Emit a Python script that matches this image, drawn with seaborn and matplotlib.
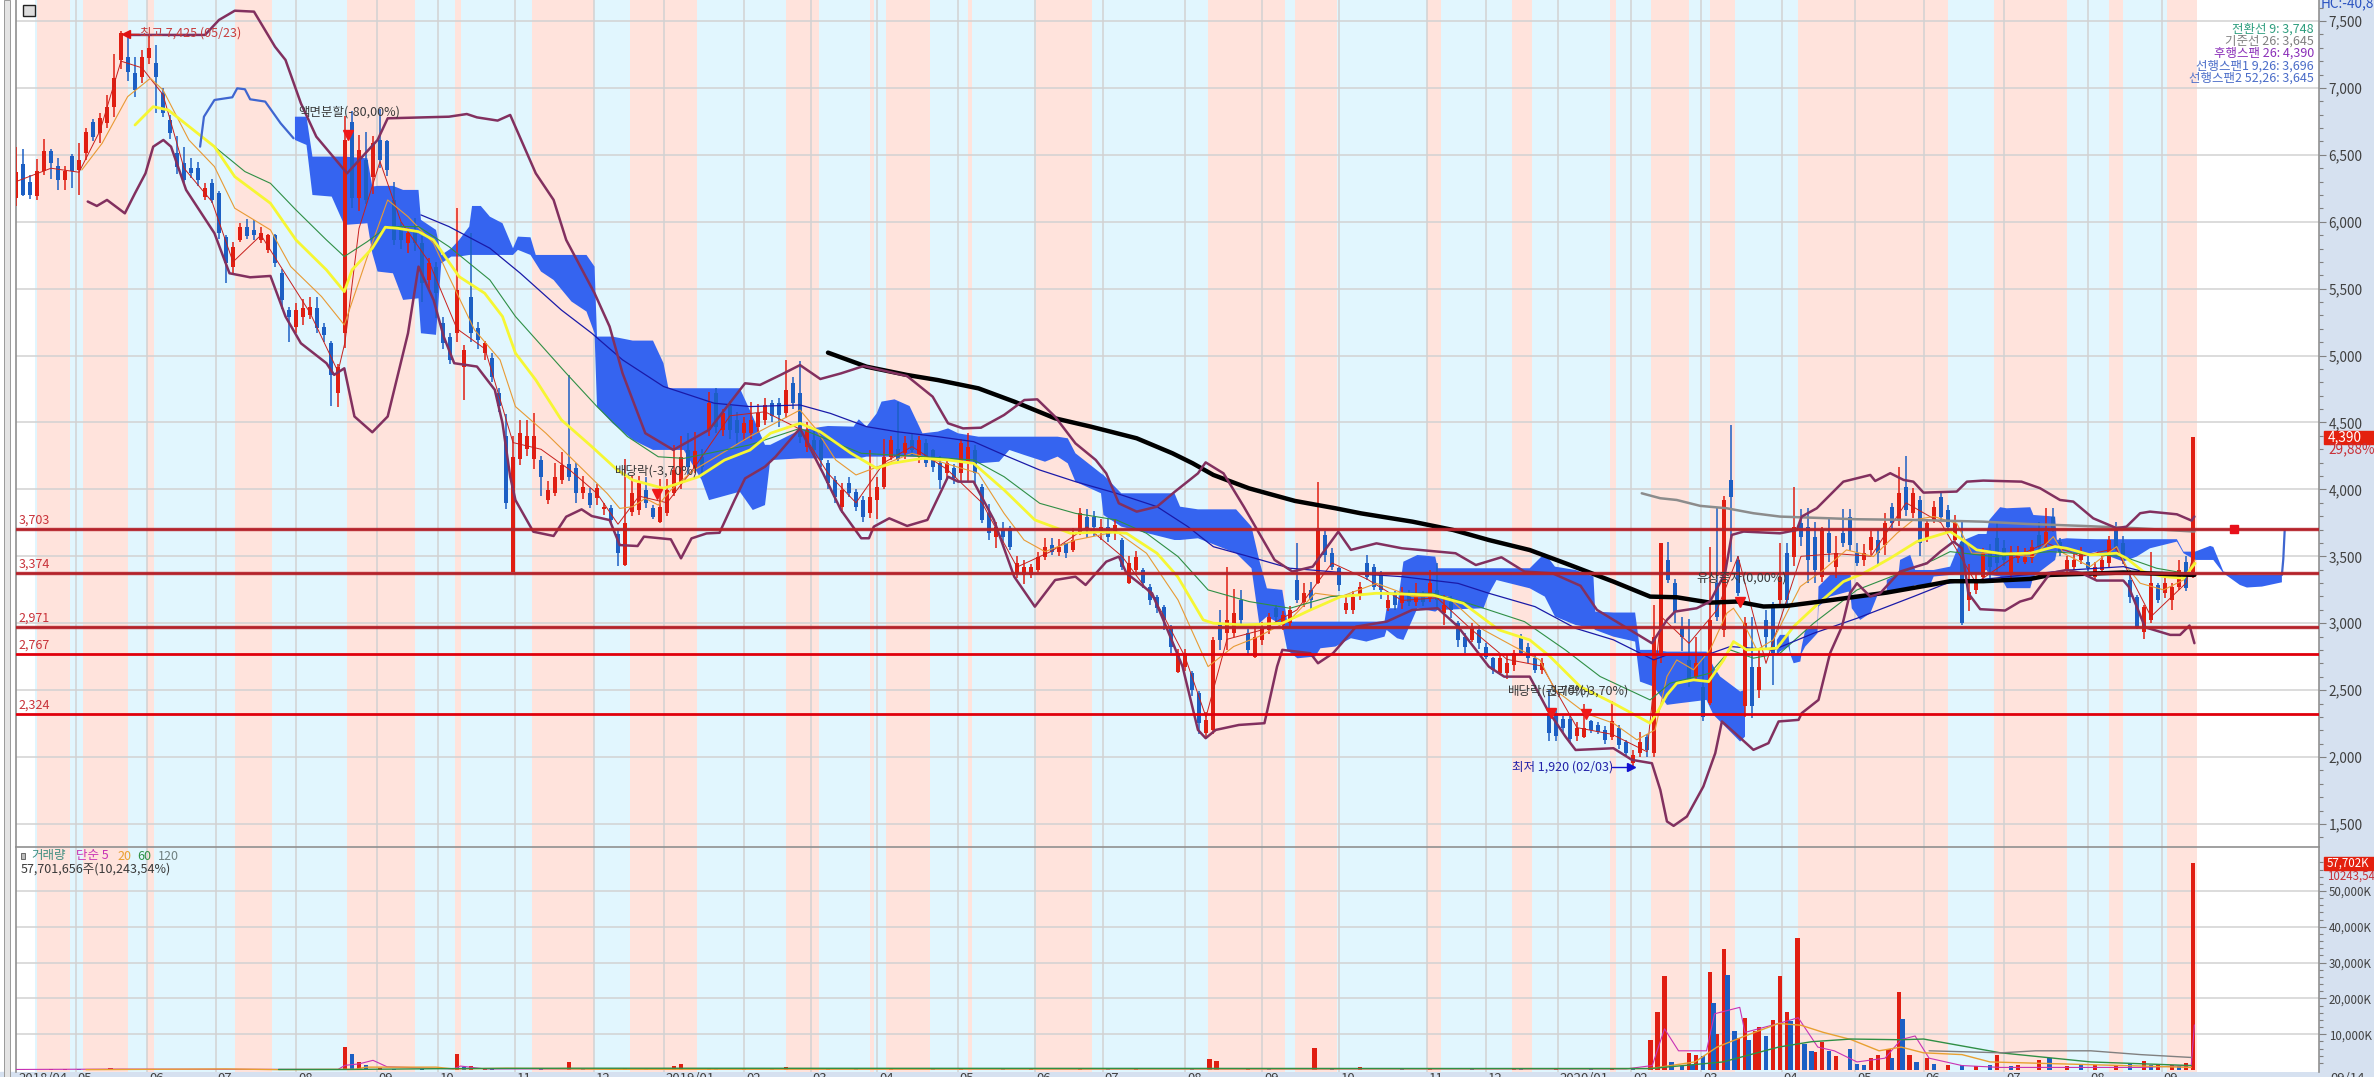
import matplotlib
matplotlib.use("Agg")
import numpy as np
import pandas as pd
import matplotlib.pyplot as plt
from matplotlib.patches import Rectangle
import seaborn as sns

sns.set_theme(style="white")
FONT = ["Liberation Sans Narrow", "Noto Sans CJK KR", "DejaVu Sans"]
plt.rcParams["font.family"] = FONT

# --------- candles, one every 2 sessions ---------
opens = [
    6180, 6430, 6300, 6190, 6380, 6530, 6420, 6310, 6490, 6387,
    6512, 6748, 6661, 6736, 6860, 7208, 7234, 7110, 7084, 7226,
    7184, 6960, 6760, 6512, 6437, 6400, 6400, 6188, 6287, 6213,
    5889, 5665, 5865, 5964, 5940, 5865, 5790, 5900, 5615, 5340,
    5217, 5290, 5304, 5352, 5217, 5092, 4720, 5170, 6748, 6176,
    6462, 6337, 6611, 6600, 6163, 5964, 5840, 5939, 5840, 5565,
    5665, 5240, 5142, 5167, 4918, 5441, 5205, 5018, 4980, 4720,
    4400, 3385, 4230, 4300, 4225, 4220, 3920, 3970, 4070, 4190,
    4157, 3970, 3970, 3933, 3850, 3858, 3670, 3435, 3833, 3846,
    3995, 3858, 3760, 3820, 3970, 4045, 4294, 4160, 4244, 4445,
    4720, 4445, 4620, 4520, 4420, 4420, 4470, 4520, 4644, 4644,
    4570, 4794, 4718, 4319, 4370, 4370, 4195, 4070, 3871, 4046,
    3983, 3921, 3822, 3921, 4020, 4245, 4300, 4270, 4370, 4245,
    4344, 4294, 4195, 4120, 4158, 4120, 4195, 4294, 4020, 3821,
    3647, 3697, 3709, 3373, 3361, 3361, 3398, 3498, 3585, 3535,
    3597, 3548, 3684, 3796, 3796, 3672, 3722, 3684, 3622, 3298,
    3398, 3398, 3274, 3199, 3124, 2975, 2639, 2676, 2626, 2477,
    2178, 2203, 3000, 2925, 2925, 3174, 2925, 2751, 2875, 2950,
    3112, 2987, 3000, 3323, 3162, 3249, 3298, 3660, 3523, 3411,
    3099, 3099, 3211, 3448, 3423, 3361, 3112, 3224, 3149, 3211,
    3162, 3211, 3187, 3250, 3075, 3162, 3000, 2900, 2875, 2950,
    2826, 2738, 2626, 2626, 2689, 2900, 2826, 2738, 2651, 2327,
    2326, 2285, 2285, 2161, 2153, 2266, 2241, 2203, 2153, 2216,
    2116, 1954, 2029, 2153, 2029, 2776, 3473, 3299, 2963, 2726,
    2602, 2527, 2402, 3299, 2950, 4071, 3473, 2378, 2676, 2502,
    3025, 3125, 3174, 3523, 3498, 3747, 3722, 3648, 3349, 3672,
    3423, 3672, 3797, 3523, 3473, 3548, 3623, 3585, 3872, 3772,
    4021, 3822, 3921, 3635, 3772, 3946, 3847, 3622, 3610, 3175,
    3249, 3349, 3548, 3635, 3560, 3361, 3486, 3461, 3486, 3660,
    3598, 3797, 3610, 3398, 3423, 3473, 3461, 3349, 3398, 3448,
    3697, 3598, 3324, 3199, 2938, 3025, 3286, 3224, 3174, 3274,
    3461, 3381,
]
highs = [
    6560, 6540, 6350, 6470, 6620, 6540, 6480, 6420, 6510, 6590,
    6700, 6770, 6810, 6950, 7250, 7425, 7390, 7230, 7280, 7400,
    7320, 7000, 6800, 6640, 6560, 6480, 6450, 6290, 6320, 6230,
    5900, 5850, 5990, 6020, 6010, 5960, 5910, 5910, 5650, 5360,
    5390, 5420, 5440, 5440, 5240, 5110, 4940, 6790, 6830, 6650,
    6670, 6640, 6840, 6610, 6300, 6000, 5950, 6030, 5890, 5730,
    5700, 5290, 5170, 6100, 5080, 5914, 5250, 5110, 5020, 4760,
    4560, 4400, 4520, 4520, 4570, 4250, 4060, 4200, 4280, 4856,
    4200, 4100, 4010, 4040, 3900, 3880, 3700, 4230, 4100, 4100,
    4090, 3880, 4080, 4080, 4330, 4400, 4420, 4430, 4300, 4730,
    4760, 4600, 4660, 4580, 4540, 4650, 4640, 4680, 4670, 4680,
    4968, 4840, 4960, 4500, 4440, 4400, 4220, 4100, 4050, 4095,
    4000, 3950, 4295, 4090, 4380, 4400, 4655, 4400, 4420, 4400,
    4380, 4300, 4250, 4230, 4190, 4380, 4420, 4330, 4040, 3890,
    3760, 3760, 3730, 3500, 3470, 3440, 3530, 3640, 3640, 3630,
    3600, 3710, 3860, 3850, 3840, 3780, 3780, 3780, 3640, 3500,
    3540, 3410, 3290, 3210, 3140, 2990, 2810, 2810, 2640, 2490,
    2340, 2900, 3100, 3423, 3255, 3250, 2960, 2980, 3010, 3080,
    3140, 3090, 3130, 3600, 3300, 3310, 4058, 3690, 3560, 3420,
    3200, 3240, 3310, 3510, 3440, 3390, 3220, 3240, 3270, 3250,
    3300, 3240, 3400, 3450, 3210, 3200, 3020, 2930, 3000, 2990,
    2850, 2750, 2770, 2760, 2800, 2920, 2850, 2760, 2740, 2500,
    2360, 2310, 2310, 2260, 2400, 2280, 2260, 2230, 2420, 2240,
    2130, 2050, 2190, 2170, 3140, 3600, 3605, 3330, 3050, 3030,
    2900, 2780, 3573, 3860, 3950, 4480, 3500, 3050, 3050, 2800,
    3100, 3160, 3600, 3600, 4021, 3850, 3860, 3760, 3720, 3790,
    3650, 3850, 3850, 3600, 3590, 3690, 3700, 3820, 3900, 4170,
    4250, 4010, 3950, 3780, 3910, 3980, 3880, 3810, 3760, 3440,
    3370, 3560, 3590, 3760, 3620, 3580, 3580, 3560, 3620, 3760,
    3860, 3860, 3640, 3500, 3520, 3570, 3500, 3460, 3500, 3650,
    3760, 3650, 3400, 3210, 3140, 3530, 3300, 3360, 3300, 3470,
    3500, 4390,
]
lows = [
    6120, 6190, 6170, 6160, 6350, 6320, 6240, 6240, 6250, 6200,
    6460, 6600, 6590, 6700, 6780, 7140, 7050, 6930, 7040, 7180,
    6810, 6780, 6620, 6360, 6280, 6330, 6270, 6160, 6140, 5870,
    5540, 5600, 5850, 5870, 5860, 5840, 5770, 5660, 5350, 5100,
    5170, 5230, 5270, 5170, 5100, 4620, 4617, 5060, 6100, 6080,
    6130, 6210, 6400, 6340, 5830, 5800, 5770, 5780, 5400, 5500,
    5280, 5050, 4940, 5100, 4670, 5100, 5050, 4970, 4800, 4580,
    3850, 3380, 4180, 4250, 4150, 3950, 3890, 3950, 4040, 4060,
    3900, 3930, 3860, 3880, 3810, 3740, 3425, 3430, 3800, 3810,
    3860, 3780, 3750, 3800, 3950, 4000, 4100, 4120, 4090, 4400,
    4420, 4400, 4380, 4340, 4360, 4380, 4420, 4480, 4500, 4470,
    4530, 4600, 4350, 4280, 4240, 4170, 4000, 3900, 3820, 3940,
    3840, 3760, 3790, 3780, 4000, 4220, 4200, 4230, 4260, 4200,
    4170, 4130, 4000, 4070, 4040, 4060, 4060, 4050, 3750, 3620,
    3560, 3600, 3550, 3340, 3290, 3340, 3380, 3470, 3510, 3500,
    3490, 3530, 3660, 3640, 3650, 3620, 3610, 3620, 3400, 3290,
    3380, 3260, 3140, 3080, 2950, 2780, 2630, 2640, 2460, 2170,
    2140, 2170, 2800, 2800, 2900, 2980, 2770, 2740, 2840, 2920,
    3000, 2950, 2970, 3150, 3120, 3100, 3290, 3460, 3395, 3240,
    3070, 3070, 3170, 3320, 3250, 3180, 3090, 3100, 3110, 3130,
    3130, 3130, 3160, 3100, 2985, 3040, 2820, 2780, 2860, 2810,
    2730, 2620, 2610, 2580, 2640, 2760, 2700, 2630, 2620, 2120,
    2120, 2190, 2110, 2120, 2140, 2180, 2170, 2100, 2130, 2060,
    2010, 1920, 2000, 2000, 2000, 2700, 3300, 3000, 2790, 2520,
    2570, 2270, 2390, 3020, 2900, 3460, 3200, 2300, 2290, 2440,
    2800, 2540, 3120, 3120, 3430, 3580, 3300, 3300, 3310, 3460,
    3340, 3570, 3540, 3430, 3430, 3500, 3430, 3510, 3700, 3730,
    3800, 3790, 3500, 3610, 3750, 3770, 3690, 3610, 2990, 3090,
    3220, 3330, 3340, 3380, 3430, 3330, 3450, 3440, 3450, 3550,
    3570, 3680, 3500, 3370, 3400, 3440, 3390, 3320, 3380, 3420,
    3540, 3440, 3150, 2960, 2880, 3000, 3150, 3190, 3100, 3250,
    3240, 3340,
]
closes = [
    6370, 6200, 6200, 6380, 6530, 6440, 6310, 6380, 6380, 6462,
    6673, 6636, 6773, 6860, 7072, 7408, 7122, 6985, 7234, 7296,
    7084, 6810, 6661, 6412, 6312, 6362, 6312, 6250, 6163, 5914,
    5690, 5815, 5964, 5890, 5900, 5914, 5900, 5690, 5416, 5290,
    5340, 5352, 5366, 5205, 5155, 4856, 4918, 6610, 6176, 6537,
    6163, 6587, 6462, 6387, 5864, 5864, 5914, 5840, 5540, 5690,
    5466, 5092, 4968, 5490, 5040, 5167, 5117, 5092, 4843, 4620,
    3895, 4244, 4420, 4400, 4400, 4095, 3995, 4095, 4180, 4090,
    3970, 4020, 3883, 4008, 3870, 3771, 3522, 3750, 3970, 4045,
    3895, 3796, 3870, 3995, 4145, 4244, 4170, 4290, 4170, 4644,
    4470, 4570, 4445, 4420, 4495, 4520, 4570, 4632, 4545, 4557,
    4744, 4644, 4394, 4444, 4295, 4220, 4046, 3946, 3996, 3971,
    3871, 3796, 3946, 4020, 4245, 4369, 4230, 4344, 4295, 4369,
    4195, 4170, 4070, 4195, 4083, 4344, 4320, 4120, 3772, 3672,
    3722, 3647, 3572, 3448, 3423, 3423, 3498, 3572, 3535, 3572,
    3523, 3622, 3821, 3697, 3722, 3722, 3647, 3734, 3423, 3448,
    3498, 3298, 3174, 3112, 3025, 2826, 2776, 2776, 2502, 2253,
    2278, 2875, 2875, 3025, 3075, 3025, 2801, 2900, 2975, 3050,
    3050, 3060, 3099, 3174, 3224, 3174, 3710, 3510, 3423, 3286,
    3149, 3199, 3274, 3348, 3274, 3249, 3174, 3137, 3224, 3162,
    3224, 3162, 3298, 3174, 3137, 3099, 2875, 2826, 2975, 2850,
    2751, 2651, 2738, 2701, 2776, 2776, 2738, 2651, 2701, 2178,
    2160, 2216, 2133, 2216, 2216, 2203, 2191, 2128, 2266, 2091,
    2029, 2016, 2116, 2054, 2900, 3598, 3324, 3087, 2900, 2577,
    2701, 2303, 3025, 3050, 3921, 3946, 3224, 3000, 2378, 2676,
    2900, 2776, 3349, 3174, 3722, 3647, 3473, 3398, 3697, 3523,
    3523, 3598, 3585, 3448, 3523, 3647, 3523, 3747, 3747, 3971,
    3847, 3971, 3598, 3747, 3872, 3797, 3722, 3747, 3000, 3237,
    3324, 3523, 3423, 3448, 3473, 3535, 3535, 3498, 3573, 3573,
    3685, 3697, 3535, 3473, 3473, 3535, 3411, 3423, 3473, 3623,
    3560, 3473, 3199, 2975, 3125, 3299, 3174, 3299, 3274, 3398,
    3262, 4390,
]

# --------- moving averages and bands (session, price) ---------
upper_s = [32, 39, 54, 58, 62.5, 68, 74, 77, 81.4, 85.8, 94.6, 103.3, 106.2, 123.7, 128.8, 131.7, 137.6, 141.2,
           148.5, 153.6, 157.2, 165.3, 169.6, 173.3, 179.8, 187.8, 198, 208.3, 212.6, 218.5, 224, 229.8, 235.7,
           242.2, 254.6, 261.9, 266.3, 270.6, 275.7, 282.3, 288.1, 291.8, 296.9, 302.7, 308.5, 311.5, 315.1, 320.2,
           326, 331.1, 337.7, 339.9, 345, 350.8, 355.2, 359.6, 364.7, 370.5, 377.8, 381.4, 388.7, 396, 411.3, 417.1,
           424.4, 431, 439, 447, 451.7, 467.4, 471.7, 474, 480.2, 484, 488.3, 490.2, 493.6, 504, 508.8, 510.2, 514.5,
           522.1, 529.8, 531.2, 535.5, 539.3, 542.1, 545, 554.5, 557.4, 562.1, 573, 578.3, 584, 587.8, 593.5, 600.2,
           603, 606.9, 609.7, 617.4, 621.6, 622.4]
upper_p = [7396, 7396, 7396, 7508, 7577, 7570, 7308, 7209, 6885, 6636, 6362, 6611, 6773, 6785, 6805, 6780, 6756, 6798,
           6362, 6163, 5864, 5466, 5217, 4868, 4420, 4295, 4445, 4793, 4781, 4856, 4929, 4825, 4867,
           4922, 4847, 4693, 4494, 4456, 4461, 4556, 4668, 4673, 4543, 4344, 4220, 4120, 3896, 3834,
           3871, 3983, 4120, 4202, 4120, 3871, 3672, 3473, 3386, 3423, 3684, 3548, 3597, 3560, 3523, 3435,
           3493, 3386, 3373, 3280, 3100, 2851, 3025, 3087, 3112, 3162, 3374, 3660, 3685, 3672, 3697, 3797, 3859,
           4058, 4108, 4063, 4121, 4071, 4058, 3976, 3984, 4058, 4066, 4058, 4009, 3921, 3909, 3784, 3710,
           3722, 3822, 3834, 3814, 3767, 3797]

lower_s = [20.5, 23.1, 26, 31.1, 34, 37, 39.2, 42.1, 44.3, 48.6, 56.7, 61, 66.9, 72.7, 77, 81.4, 88.7, 90.9, 93.8,
           96.7, 101.8, 106.2, 112, 115, 119.3, 122.2, 125.2, 131.7, 136.8, 139, 141.2, 142.7, 147.8, 153.6, 157.2,
           161.6, 164.5, 169.6, 172.5, 177.6, 179.4, 187.1, 190, 193, 197.3, 201, 205.3, 208.3, 214, 217, 224, 230.6,
           235.7, 241.5, 243.7, 245.1, 249.5, 254.6, 260.4, 266.3, 269.2, 273.6, 279.4, 285.2, 291.1, 296.9, 302.7,
           305.6, 311.5, 315.1, 317.3, 324.6, 329, 333.3, 337.7, 339.9, 342.8, 349.4, 356.7, 360.3, 361.8, 369.8, 372,
           376.3, 382.9, 391.6, 398.9, 406.2, 412, 420.8, 425.2, 432.5, 437.6, 442.7, 445.6, 456.4, 461.7, 467.4,
           469.8, 471.7, 473.6, 477.4, 482.1, 485.5, 487.4, 491.7, 496.4, 500.7, 503.6, 509.3, 510.2, 515, 518.3,
           521.7, 524, 526, 529.8, 532.6, 538.3, 546, 549.8, 553.6, 556, 557.8, 561.2, 568.3, 572.6, 575.9, 581.2,
           585.9, 590.2, 594.5, 602.1, 603.6, 608.3, 615.5, 618.3, 621, 622.4]
lower_p = [6151, 6118, 6163, 6063, 6213, 6362, 6561, 6611, 6561, 6238, 5914, 5615, 5585, 5595, 5292, 5092, 4943, 4856, 4905,
           4545, 4427, 4545, 5167, 5665, 5416, 5142, 4943, 4918, 4744, 4495, 4095, 3920, 3684, 3652, 3796,
           3851, 3801, 3771, 3584, 3577, 3647, 3627, 3485, 3634, 3671, 3676, 3920, 4082, 4170, 4244, 4456, 4120,
           3846, 3635, 3635, 3722, 3784, 3727, 3772, 4095, 4058, 4058, 3772, 3348, 3124, 3323, 3348,
           3286, 3460, 3498, 3373, 3224, 2950, 2676, 2203, 2141, 2203, 2240, 2253, 2676, 2801, 2776, 2701,
           2776, 2975, 3012, 3099, 3112, 2975, 2676, 2601, 2601, 2352, 2153, 2053, 2066, 1979, 1954,
           1755, 1519, 1486, 1556, 1780, 2029, 2266, 2166, 2054, 2104, 2266, 2278, 2328, 2427, 2776,
           2975, 3224, 3299, 3199, 3224, 3386, 3448, 3535, 3610, 3560, 3224, 3105, 3095, 3162, 3187, 3374,
           3398, 3374, 3319, 3319, 3274, 2970, 2913, 2913, 2983, 2851]

ma5_s = [0, 10, 18, 24, 30, 36, 42, 48, 56, 62, 70, 76, 84, 92, 94, 98, 104, 110, 118, 126, 134, 142, 150, 158, 166, 172,
         178, 186, 194, 204, 214, 224, 232, 240, 248, 256, 266, 276, 286, 296, 306, 316, 326, 334, 340, 346, 356, 366,
         376, 386, 396, 406, 416, 426, 436, 446, 456, 466, 470, 478, 486, 492, 500, 510, 520, 530, 540, 550, 560, 570,
         580, 590, 600, 610, 620, 622]
ma5_p = [6300, 6400, 6370, 6680, 7200, 7150, 6950, 6400, 6150, 5700, 5900, 5650, 5320, 4880, 5100, 5950, 6450, 6000, 5700,
         5200, 5050, 4350, 4300, 4150, 3970, 3740, 3950, 3900, 4170, 4550, 4580, 4450, 4120, 3900, 4200, 4320, 4150,
         3900, 3420, 3540, 3720, 3500, 3150, 2750, 2300, 2880, 2950, 3100, 3450, 3330, 3170, 3190, 2950, 2730, 2680,
         2220, 2170, 2040, 3050, 2850, 3100, 3500, 2700, 3500, 3520, 3500, 3900, 3750, 3300, 3480, 3600, 3500, 3560,
         3050, 3300, 3500]

ma10_s = [18.8, 24.6, 31.9, 38.4, 42, 49.4, 56.7, 62.5, 72.7, 78.5, 87.3, 93.8, 100.4, 106.2, 112, 119.3, 123.7, 131, 138.3,
          142.7, 151.4, 160.2, 168.9, 172.5, 176.2, 179.8, 183.5, 187.1, 193.7, 210, 224, 228.4, 234.2, 240, 248.8, 256,
          275, 282.3, 288, 294, 302.7, 314.4, 323, 332, 340.6, 347.9, 355, 364, 371.2, 378.5, 388.7, 399, 409, 419.3, 428,
          435.4, 439.7, 448.5, 456.4, 463.1, 468.3, 471.7, 474.5, 479.3, 484, 488.8, 490.7, 493.6, 497.4, 502.1, 505.9,
          509.8, 516.4, 523, 530.7, 537.4, 542.1, 547.9, 554.5, 558.8, 565, 576.4, 582.1, 585, 592.6, 600.2, 603, 606.9,
          613.6, 619.3, 622.6]
ma10_p = [6387, 6586, 6935, 7072, 6985, 6611, 6412, 6101, 5939, 5665, 5441, 5229, 5740, 6163, 6038, 5839, 5590, 5192, 4968,
          4619, 4420, 4194, 3970, 3858, 3871, 3933, 3883, 3995, 4145, 4400, 4593, 4456, 4220, 4108, 4195, 4270,
          4120, 3821, 3622, 3535, 3622, 3684, 3523, 3174, 2676, 2826, 2900, 3025, 3224, 3199, 3298, 3199, 3199, 2950, 2826,
          2726, 2502, 2327, 2253, 2129, 2203, 2602, 2726, 2652, 2801, 3075, 3112, 3000, 2801, 2876, 3075,
          3274, 3398, 3548, 3498, 3672, 3772, 3797, 3747, 3523, 3523, 3498, 3647, 3523, 3423, 3573, 3423, 3299,
          3249, 3324, 3473]

ma20_s = [34, 39.2, 43.5, 56.7, 62.5, 72.7, 80, 88.7, 93.8, 96, 101.8, 105.5, 109.1, 115, 119.3, 126.6, 133.9, 139, 142.7,
          148.5, 155.8, 164.5, 171.8, 176.2, 185, 189.3, 195.1, 202.4, 209.7, 215.6, 224, 229.8, 238.6, 245.9, 250.2,
          259, 266.3, 273.6, 282.3, 291.1, 301.3, 311.5, 317.3, 326, 331.9, 339.2, 342.1, 350.8, 361.8, 369.8, 378.5,
          388.7, 404.8, 413.5, 423.7, 432.5, 438.3, 446.9, 456.4, 466.9, 468.8, 471.7, 474.5, 479.3, 483.6, 487.9, 490.7,
          494.5, 503.1, 507.9, 514.5, 522.1, 527.9, 535.5, 543.1, 552.6, 555.5, 560.2, 567.8, 575.5, 582.6, 585.9, 592.6,
          600.2, 603, 607.8, 613.6, 619.3, 622.6]
ma20_p = [6723, 6860, 6835, 6561, 6337, 6138, 5864, 5640, 5478, 5640, 5802, 5959, 5951, 5926, 5864, 5590, 5466, 5292, 5018,
          4818, 4520, 4320, 4145, 4070, 4008, 4045, 4095, 4219, 4294, 4420, 4494, 4431, 4270, 4158, 4195,
          4232, 4220, 4195, 3996, 3772, 3672, 3684, 3672, 3523, 3348, 3025, 3000, 2987, 3000, 3099, 3199,
          3224, 3211, 3149, 2950, 2875, 2751, 2527, 2402, 2253, 2328, 2465, 2552, 2577, 2564, 2726, 2863,
          2801, 2813, 2975, 3137, 3311, 3374, 3486, 3610, 3685, 3635, 3548, 3518, 3523, 3573, 3560, 3511,
          3523, 3486, 3386, 3349, 3336, 3448]

ma60_s = [56.7, 65.4, 72.7, 80, 88.7, 93.8, 100.4, 106.2, 115, 123.7, 135.4, 142.7, 157.2, 166, 174.7, 183.5, 190.8, 209.7,
          224, 241.5, 259, 273.6, 282.3, 292.5, 302.7, 314.4, 323, 332, 340.6, 352.3, 364, 375.6, 388.7, 404.8, 416.4,
          431, 442.7, 452.6, 466.9, 472.6, 484, 489.8, 496.4, 504, 513.6, 526, 538.3, 547.9, 552.6, 565, 581.2, 602.1,
          611.6, 622.4]
ma60_p = [6561, 6375, 6287, 6088, 5864, 5740, 5852, 5964, 5964, 5814, 5565, 5292, 4868, 4619, 4395, 4244, 4232, 4333,
          4456, 4270, 4245, 4220, 4095, 3896, 3821, 3772, 3672, 3498, 3249, 3162, 3112, 3199, 3224, 3224, 3137,
          3012, 2800, 2602, 2427, 2552, 2627, 2801, 2739, 2776, 3000, 3249, 3374, 3473, 3535, 3498, 3535, 3498,
          3411, 3361]

ma120_s = [115.7, 123.7, 135.4, 144.1, 155.8, 164.5, 173.3, 185, 199.5, 209.7, 224, 232.7, 243, 251.7, 263.4, 273.6, 282.3,
           292.5, 302.7, 314.4, 326, 334.8, 342.1, 352.3, 364, 381.4, 396, 412, 420.8, 434, 445.6, 456.4, 467.9, 471.7,
           483, 489.8, 502.1, 513.6, 526, 542.1, 551.7, 587, 602.1, 609.7, 622.4]
ma120_p = [6051, 5964, 5802, 5615, 5341, 5167, 4968, 4769, 4644, 4619, 4631, 4568, 4469, 4431, 4394, 4357, 4257,
           4145, 4058, 3971, 3871, 3722, 3572, 3498, 3411, 3373, 3348, 3298, 3224, 3124, 2962, 2876, 2726, 2763,
           2763, 2826, 2801, 2925, 3037, 3199, 3299, 3398, 3423, 3374, 3369]

ma240_s = [232, 243, 254.6, 263.4, 275, 285.2, 296.9, 307.1, 320.2, 330.4, 336.2, 342.1, 352.3, 365.4, 377, 384.3, 399, 410.6,
           420.8, 432.5, 442.7, 456.4, 466.9, 474.5, 484, 491.7, 499.3, 506, 515.5, 526, 534.5, 546.9, 552.6, 562.1,
           575.5, 581.2, 590.7, 602.1, 622.4]
ma240_p = [5022, 4917, 4855, 4817, 4755, 4656, 4531, 4469, 4382, 4270, 4195, 4108, 4008, 3914, 3859, 3821, 3759, 3697,
           3622, 3547, 3448, 3311, 3199, 3194, 3154, 3162, 3125, 3130, 3162, 3199, 3229, 3286, 3314, 3314,
           3331, 3361, 3369, 3379, 3361]

ma480_s = [464.5, 469.8, 474.5, 481.2, 488.8, 496.4, 504, 526, 542.1, 562.1, 574.5, 590.7, 605.9, 622.4]
ma480_p = [3971, 3934, 3921, 3877, 3859, 3822, 3797, 3777, 3772, 3759, 3742, 3727, 3710, 3685]

# --------- ichimoku cloud ---------
cloud_s = [79.7, 83, 84.7, 90.2, 93.8, 100.4, 101.8, 103.3, 107.7, 110.6, 115, 115.7, 120, 121.5, 124.4, 126.6, 129.5, 130.3,
           132.8, 135.4, 139, 142, 143.4, 147, 148.5, 150, 153.6, 158.7, 163, 165.3, 166, 170.4, 176.2, 182, 185, 186.4, 190.8,
           195.9, 198, 206.8, 210.5, 214, 215.5, 224, 232, 239.3, 240.8, 243, 245.9, 247.3, 251, 255.3, 259, 263.4, 266.3, 269.2,
           275, 280.9, 283.8, 288.1, 294, 297.6, 300.5, 302.7, 310, 310.7, 315.8, 331, 332.6, 337.7, 348.6, 353, 355.2, 357.4,
           361.8, 363.2, 366.1, 371.2, 372.7, 377, 381.4, 385.8, 391, 391.6, 394.6, 396.4, 400.4, 405.5, 406.2, 419.3, 420.8, 423,
           432.5, 436.8, 439.7, 445.6, 450.7, 451.2, 456.4, 462.6, 464, 467.9, 471.7, 475.5, 483, 485, 486.9, 492.6, 494, 494.5,
           503.1, 504, 506.4, 507, 507.9, 509.8, 510.2, 511.2, 514.7, 515, 518.3, 523.6, 524.2, 524.5, 526.9, 529.8, 531.7, 533,
           534.5, 537.9, 538.3, 541.2, 542.6, 546.9, 547.9, 552.6, 555.5, 560.7, 563, 563.8, 566.9, 568.8, 575.5, 576.4, 582.6,
           583.1, 585.9, 590.7, 594.5, 602.1, 605.9, 609.7, 617.4, 619.3, 622.6, 626.9, 627.8, 630.7, 635.4, 637.4, 641.7, 647.4]
cloud_top = [6785, 6785, 6487, 6487, 6487, 6474, 6263, 6268, 6268, 6238, 6238, 6014, 5939, 5752, 5802, 5864, 5964, 6118,
             6118, 6038, 5989, 5802, 5889, 5884, 5752, 5752, 5752, 5752, 5752, 5665, 5142, 5142, 5112, 5112, 4943, 4756, 4756,
             4756, 4756, 4756, 4545, 4333, 4333, 4444, 4474, 4469, 4524, 4469, 4568, 4656, 4673, 4623, 4419, 4432, 4456, 4419,
             4394, 4394, 4394, 4394, 4394, 4394, 4382, 4270, 4120, 4108, 3971, 3971, 3871, 3851, 3851, 3722, 3473, 3261,
             3249, 3012, 3012, 3012, 3012, 3012, 3012, 3012, 3012, 3112, 3112, 3460, 3510, 3498, 3411, 3411, 3411, 3411,
             3411, 3523, 3423, 3398, 3349, 3087, 3080, 3080, 2801, 2801, 2788, 2788, 2788, 2676, 2602, 2490, 2502, np.nan,
             2876, 2913, 2913, 2776, 2763, 2763, 2826, 2950, 2975, 3274, 3361, 3361, 3361, 3212, 3212, 3212, 3212, np.nan,
             3324, 3374, 3473, 3511, 3398, 3398, 3398, 3423, 3610, 3667, 3667, 3772, 3867, 3859, 3867, 3809, 3797,
             3623, 3635, 3630, 3628, 3628, 3628, 3628, 3628, 3535, 3535, 3578, 3570, 3386, 3361, 3361, 3361, 3361]
cloud_bot = [6611, 6574, 6200, 6188, 5976, 5989, 5765, 5628, 5615, 5416, 5428, 5167, 5155, 5690, 5740, 5740, 5752, 5752,
             5752, 5752, 5752, 5752, 5790, 5752, 5690, 5628, 5565, 5404, 5329, 5167, 4619, 4495, 4370, 4295, 4295, 4295, 4295,
             4070, 3920, 3983, 3846, 3883, 4219, 4232, 4232, 4232, 4232, 4245, 4245, 4245, 4245, 4245, 4245, 4220, 4220, 4207,
             4195, 4207, 4295, 4257, 4207, 4245, 4195, 4058, 3971, 3809, 3722, 3622, 3622, 3635, 3523, 3411, 3000, 3050,
             2987, 2801, 2738, 2751, 2813, 2826, 2888, 2863, 2900, 2950, 2888, 2875, 3112, 3087, 3099, 3112, 3220, 3323,
             3261, 3199, 3050, 2987, 2963, 2950, 2900, 2863, 2564, 2527, 2390, 2403, 2427, 2315, 2266, 2116, 2153, np.nan,
             2763, 2789, 2826, 2763, 2701, 2714, 2776, 2826, 2925, 3125, 3199, 3237, 3199, 3112, 3025, 3075, 3199, np.nan,
             3224, 3237, 3249, 3262, 3286, 3286, 3349, 3361, 3374, 3374, 3398, 3361, 3349, 3262, 3262, 3349, 3473,
             3535, 3535, 3511, 3535, 3461, 3498, 3560, 3610, 3523, 3473, 3473, 3473, 3374, 3286, 3267, 3274, 3306]

span_start_s = [52.6, 53.7, 56.7, 61.8, 63.2, 65.4, 66.9, 71.2, 75.6, 79.3]
span_start_p = [6561, 6785, 6910, 6930, 6997, 6990, 6915, 6898, 6736, 6624]
span_end_s = [647.4, 647.8, 648.2]
span_end_p = [3361, 3480, 3697]

levels = [3703, 3374, 2971, 2767, 2324]

# --------- background bands and months ---------
pink_from = [6, 19, 37.5, 62.5, 94.5, 125.5, 147.5, 175.5, 220, 244, 248.5, 272, 291.5, 340.5, 365.5, 403, 427.5, 455.5, 467,
             484, 509, 565, 598, 614.5]
pink_to = [15.5, 32, 39.5, 73, 114, 127, 165, 194.5, 229.5, 245, 261, 273, 307.5, 362.5, 377.5, 407, 433, 457, 478, 491, 552,
           586, 602, 623]
month_s = [17, 37.5, 57, 80, 103, 120.5, 142.5, 165, 185, 208, 227, 246, 269, 291, 310.5, 334, 356, 378, 403, 420, 440.5,
           461.5, 481.5, 504.5, 525.5, 545, 568, 592, 613]
month_lab = ["05", "06", "07", "08", "09", "10", "11", "12", "2019/01", "02", "03", "04", "05", "06", "07", "08", "09", "10",
             "11", "12", "2020/01", "02", "03", "04", "05", "06", "07", "08", "09"]

# --------- volume, in thousands of shares ---------
up_s = [0, 10, 14, 27, 33, 76, 92, 94, 98, 104, 126, 130, 134, 158, 174, 188, 190, 198, 208, 220, 232, 250, 270, 290, 304, 320,
        341, 343, 352, 371, 384, 404, 428, 440, 456, 467, 469, 471, 478, 480, 484, 486, 488, 492, 494, 497, 498, 502, 504, 506,
        509, 514, 516, 520, 530, 532, 535, 538, 541, 546, 552, 560, 566, 572, 578, 586, 594, 600, 608, 612, 616, 620, 622]
up_v = [250, 200, 300, 500, 350, 200, 400, 6400, 2300, 500, 4500, 1200, 500, 2100, 600, 1000, 1800, 500, 300, 900, 300, 250, 300,
        200, 350, 300, 3000, 2500, 500, 6100, 700, 450, 400, 300, 500, 8250, 16200, 26300, 4800, 4300, 27500, 10000, 33900, 9000,
        14600, 11000, 12000, 14100, 26300, 16200, 36800, 5000, 7900, 4000, 3300, 4300, 5900, 21900, 4300, 3300, 1500, 1200, 4100,
        1500, 2800, 1000, 1300, 1500, 2600, 1600, 1500, 1900, 57702]
down_s = [2, 6, 18, 30, 46, 60, 96, 100, 108, 116, 128, 136, 150, 162, 180, 200, 216, 240, 262, 282, 312, 336, 358, 376, 396, 416,
          430, 450, 462, 473, 476, 479, 482, 485, 489, 491, 495, 500, 507, 511, 513, 518, 524, 526, 528, 536, 539, 543, 548, 556,
          564, 570, 581, 590, 604, 610, 618]
down_v = [150, 120, 200, 150, 120, 100, 4500, 1500, 400, 300, 700, 300, 200, 150, 250, 350, 200, 150, 200, 150, 200, 400, 300, 300,
          250, 200, 250, 300, 400, 2300, 1200, 1300, 3800, 18800, 26500, 11000, 8500, 9500, 13600, 7400, 5300, 5300, 5900, 1800, 1300,
          3300, 14300, 2300, 1800, 1500, 1300, 1100, 3300, 1300, 1800, 1500, 1200]

vol5_s = [0, 30, 92, 94, 98, 102, 106, 125, 127, 134, 200, 460, 467.5, 471, 475, 483, 485.3, 489.3, 492.5, 494, 503.6, 509.2, 514.8,
          519.5, 526, 534, 538.6, 542.6, 546.6, 556, 567, 607, 621.5, 622.4]
vol5_v = [150, 250, 150, 1300, 1700, 2700, 900, 300, 1100, 300, 300, 300, 1240, 11500, 5360, 5360, 15700, 16700, 17500, 10500, 13000,
          14600, 6400, 5360, 2250, 3300, 8500, 9500, 3300, 1240, 720, 720, 1240, 12600]
vol20_s = [20, 60, 75, 97, 100, 120, 125, 140, 170, 467, 479.7, 486, 494, 503.6, 510, 516.4, 524.3, 532.3, 538.6, 545, 556, 564, 621.5]
vol20_v = [100, 300, 100, 200, 800, 800, 300, 500, 200, 400, 2250, 6400, 9500, 13000, 12500, 10500, 8500, 5360, 6400, 4800, 4300, 2250, 720]
vol60_s = [75, 95, 125, 160, 467, 487.7, 503.6, 513, 524.3, 538.6, 545, 567, 592.8, 621.5]
vol60_v = [150, 150, 400, 500, 400, 2250, 6400, 7900, 8650, 8450, 8650, 4800, 2250, 1240]
vol120_s = [546.6, 567.3, 577, 592.8, 607, 621.5]
vol120_v = [5360, 4800, 5360, 5360, 4300, 3500]

UP = "#E01E12"
DOWN = "#1C5FC4"
PINK = "#FFE3DC"
SKY = "#E1F6FE"
PANEL = "#D6E1F0"
GRID = "#D2D2D2"
MAROON = "#82305F"
CLOUD = "#3564F0"
TEXT = "#404040"
W, H = 2374, 1077

fig = plt.figure(figsize=(W / 100, H / 100), dpi=100, facecolor="white")
ax = fig.add_axes([16 / W, 1 - 847 / H, 2303 / W, 847 / H])
vx = fig.add_axes([16 / W, 1 - 1072 / H, 2303 / W, 225 / H], sharex=ax)


def fx(px):
    return px / W


def fy(py):
    return 1 - py / H


# side panels behind the axes
fig.patches.append(Rectangle((2319 / W, 0), 55 / W, 1, transform=fig.transFigure, color=PANEL, zorder=-5))
fig.patches.append(Rectangle((0, 0), 1, 5 / H, transform=fig.transFigure, color=PANEL, zorder=-5))
fig.patches.append(Rectangle((4 / W, 0), 6 / W, 1, transform=fig.transFigure, color="#E4E4E4", ec="#9A9A9A", lw=0.7, zorder=-4))
fig.patches.append(Rectangle((23 / W, fy(16)), 12 / W, 11 / H, transform=fig.transFigure, fc="#DDDDDD", ec="#222222", lw=1, zorder=9))

for a in (ax, vx):
    a.axvspan(5.5, 623, color=SKY, lw=0, zorder=0)
    for left, right in zip(pink_from, pink_to):
        a.axvspan(left, right, color=PINK, lw=0, zorder=0.1)
    a.set_xlim(0, 658)
    a.set_xticks(month_s)
    a.grid(True, color=GRID, lw=1.1)
    a.set_axisbelow(True)
    a.tick_params(axis="x", length=0, labelbottom=False)
    a.yaxis.tick_right()
    a.tick_params(axis="y", which="major", length=5, width=0.8, color="#808080", labelcolor=TEXT,
                  labelsize=9.8, pad=2, right=True)
    a.tick_params(axis="y", which="minor", length=3, width=0.8, color="#808080", right=True)
    for side, spine in a.spines.items():
        spine.set_visible(side in ("right", "top", "left"))
        spine.set_color("#909090")
        spine.set_linewidth(1.2)

# --------- price pane ---------
ax.set_ylim(1328, 7657)
price_ticks = list(range(1500, 8000, 500))
ax.set_yticks(price_ticks)
ax.set_yticklabels([f"{t:,}" for t in price_ticks])
ax.set_yticks(list(range(1400, 7700, 100)), minor=True)
ax.spines["top"].set_visible(False)

ax.fill_between(cloud_s, cloud_top, cloud_bot, color=CLOUD, lw=0, zorder=2)

candles = pd.DataFrame({"open": opens, "high": highs, "low": lows, "close": closes})
candles["session"] = candles.index * 2
rising = candles["close"] >= candles["open"]
colors = np.where(rising, UP, DOWN)
ax.vlines(candles["session"], candles["low"], candles["high"], colors=colors, lw=1.1, zorder=3)
ax.bar(candles["session"], (candles["close"] - candles["open"]).abs(),
       bottom=candles[["open", "close"]].min(axis=1), width=1.3, color=colors, lw=0, zorder=3)


def line(a, xs, ys, color, lw, z=4):
    sns.lineplot(x=xs, y=ys, ax=a, color=color, linewidth=lw, sort=False, estimator=None, legend=False, zorder=z)


line(ax, ma5_s, ma5_p, "#C8201C", 0.7)
line(ax, ma10_s, ma10_p, "#E89A34", 0.8)
line(ax, ma60_s, ma60_p, "#2F8F45", 0.8)
line(ax, ma120_s, ma120_p, "#1A1AA8", 0.9)
line(ax, ma20_s, ma20_p, "#F6F633", 2.0)
line(ax, ma480_s, ma480_p, "#8C8C8C", 1.8)
line(ax, ma240_s, ma240_p, "#000000", 3.2)
line(ax, span_start_s, span_start_p, "#3F66D0", 1.6)
line(ax, span_end_s, span_end_p, "#3F66D0", 1.6)
line(ax, upper_s, upper_p, MAROON, 1.8, z=4.5)
line(ax, lower_s, lower_p, MAROON, 1.8, z=4.5)

for i, level in enumerate(levels):
    col = "#B4222A" if i < 3 else "#E0000C"
    if i < 3:
        ax.axhline(level, color=col, lw=3.4, alpha=0.2, zorder=5)
    ax.axhline(level, color=col, lw=2.0, zorder=5)
    ax.text(0.8, level + 18, f"{level:,}", color="#C8323A", fontsize=9, va="bottom", ha="left", zorder=6)

ax.plot([633.6], [3702], marker="s", ms=5.5, color="#E8101A", zorder=7)
ax.plot([94.8, 183.2, 438.6, 448.7, 492.6], [6646, 3963, 2332, 2320, 3162], ls="", marker="v", ms=6.5, color="#F01818", zorder=7)

note = dict(fontsize=9, color="#3A3A3A", va="center", ha="left", zorder=8)
ax.text(80.6, 6823, "액면분할(-80,00%)", **note)
ax.text(171, 4140, "배당락(-3,70%)", **note)
ax.text(426.4, 2496, "배당락(-3,70%)", **note)
ax.text(437, 2496, "권리락(-3,70%)", **note)
ax.text(480.2, 3341, "유상증자(0,00%)", **note)

ax.plot([31.5, 35], [7400, 7400], color="#D02020", lw=1, zorder=7)
ax.plot([31.5], [7400], marker="<", ms=6, color="#E01010", zorder=7)
ax.text(35.4, 7408, "최고 7,425 (05/23)", fontsize=9, color="#C83C3C", va="center", zorder=8)
ax.plot([456, 461.5], [1927, 1927], color="#1010D0", lw=1, zorder=7)
ax.plot([461.5], [1927], marker=">", ms=6, color="#1010D0", zorder=7)
ax.text(427.5, 1927, "최저 1,920 (02/03)", fontsize=9, color="#2222A8", va="center", zorder=8)

# ichimoku legend, top right
legend_rows = ["전환선 9: 3,748", "기준선 26: 3,645", "후행스팬 26: 4,390", "선행스팬1 9,26: 3,696", "선행스팬2 52,26: 3,645"]
legend_cols = ["#2E9E7E", "#808080", "#8A2EB8", "#4A6CC8", "#4A6CC8"]
for i, (row, col) in enumerate(zip(legend_rows, legend_cols)):
    fig.text(fx(2314), fy(29 + 12.3 * i), row, color=col, fontsize=9, ha="right", va="center")

fig.text(fx(2321), fy(3), "HC:-40,882", color="#2A52C0", fontsize=9.8, va="center")
fig.patches.append(Rectangle((2324 / W, fy(444)), 50 / W, 13 / H, transform=fig.transFigure, color="#E4200E", zorder=3))
fig.text(fx(2328), fy(437.5), "4,390", color="white", fontsize=9.8, va="center", zorder=4)
fig.text(fx(2328), fy(449.5), "29,88%", color="#C83038", fontsize=9.8, va="center")

# --------- volume pane ---------
vx.set_ylim(-560, 62290)
vol_ticks = list(range(10000, 60000, 10000))
vx.set_yticks(vol_ticks)
vx.set_yticklabels([f"{t:,}K" for t in vol_ticks])
vx.set_yticks(list(range(2000, 60000, 2000)), minor=True)
vx.tick_params(axis="y", which="major", labelsize=8.3)

vx.bar(up_s, up_v, width=1.3, color=UP, lw=0, zorder=3)
vx.bar(down_s, down_v, width=1.3, color=DOWN, lw=0, zorder=3)
line(vx, vol5_s, vol5_v, "#C832B4", 0.8)
line(vx, vol20_s, vol20_v, "#E8A030", 1.0)
line(vx, vol60_s, vol60_v, "#2F8F45", 1.0)
line(vx, vol120_s, vol120_v, "#808080", 1.0)

fig.patches.append(Rectangle((2324 / W, fy(870)), 50 / W, 13 / H, transform=fig.transFigure, color="#E4200E", zorder=3))
fig.text(fx(2327), fy(863.5), "57,702K", color="white", fontsize=8.3, va="center", zorder=4)
fig.text(fx(2327), fy(876), "10243,54", color="#C83038", fontsize=8.3, va="center")

fig.patches.append(Rectangle((21 / W, fy(859)), 4 / W, 6 / H, transform=fig.transFigure, fc="#BBBBBB", ec="#555555", lw=0.6, zorder=9))
vol_legend = [("거래량", 31, "#3E8E80"), ("단순 5", 76, "#C832B4"), ("20", 117, "#E8A030"), ("60", 137, "#2F8F45"), ("120", 158, "#708080")]
for txt, px, col in vol_legend:
    fig.text(fx(px), fy(856), txt, color=col, fontsize=9, va="center")
fig.text(fx(21), fy(869), "57,701,656주(10,243,54%)", color="#3A3A3A", fontsize=9, va="center")

# month labels, cut off by the bottom edge like the original
fig.text(fx(18), fy(1079), "2018/04", color=TEXT, fontsize=9.5, va="center")
for s, lab in zip(month_s, month_lab):
    fig.text(fx(16 + 3.5 * s + 2), fy(1079), lab, color=TEXT, fontsize=9.5, va="center")
fig.text(fx(2330), fy(1079), "09/14", color=TEXT, fontsize=9.5, va="center")

fig.savefig("out.png", dpi=100, facecolor="white")
